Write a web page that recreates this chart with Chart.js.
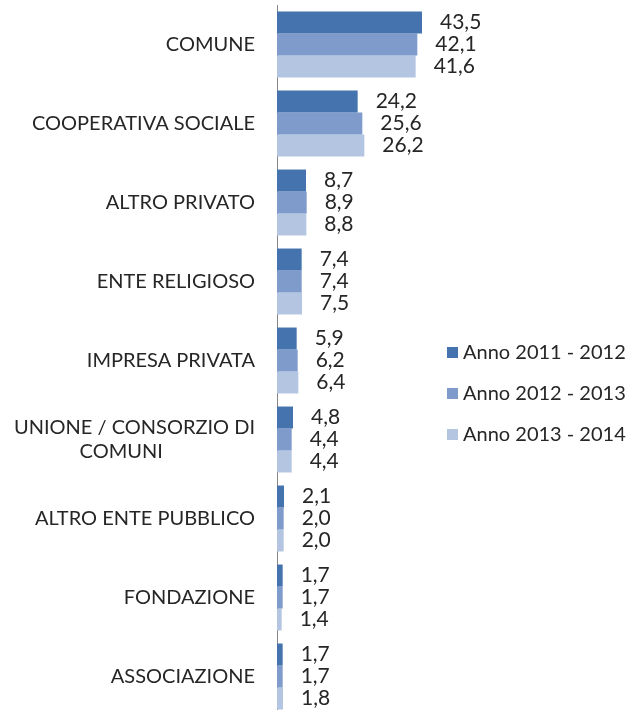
<!DOCTYPE html>
<html>
<head>
<meta charset="utf-8">
<script src="https://cdn.jsdelivr.net/npm/chart.js@4/dist/chart.umd.min.js"></script>
<style>
  body { margin: 0; overflow: hidden; background: #fff; }
  .wrap { position: relative; width: 626px; height: 716px; }
  .legend { position: absolute; left: 447px; top: 339px; font-family: Lato, sans-serif; font-size: 20px; color: #262626; }
  .legend div { height: 41px; display: flex; align-items: flex-start; white-space: nowrap; }
  .legend span.box { display: inline-block; width: 11px; height: 11px; margin: 8px 5px 0 0; }
</style>
</head>
<body>
<div class="wrap">
  <canvas id="barChart" width="626" height="716"></canvas>
  <div class="legend" id="legend"></div>
</div>
<script>
const categories = [
  'COMUNE',
  'COOPERATIVA SOCIALE',
  'ALTRO PRIVATO',
  'ENTE RELIGIOSO',
  'IMPRESA PRIVATA',
  ['UNIONE / CONSORZIO DI', 'COMUNI                  '],
  'ALTRO ENTE PUBBLICO',
  'FONDAZIONE',
  'ASSOCIAZIONE'
];
const seriesNames = ['Anno 2011 - 2012', 'Anno 2012 - 2013', 'Anno 2013 - 2014'];
const anno2011 = [43.5, 24.2, 8.7, 7.4, 5.9, 4.8, 2.1, 1.7, 1.7];
const anno2012 = [42.1, 25.6, 8.9, 7.4, 6.2, 4.4, 2.0, 1.7, 1.7];
const anno2013 = [41.6, 26.2, 8.8, 7.5, 6.4, 4.4, 2.0, 1.4, 1.8];
const colors = ['#4573AE', '#7F9BCB', '#B4C5E1'];

// value labels to the right of each bar
const valueLabels = {
  id: 'valueLabels',
  afterDatasetsDraw(chart) {
    const c = chart.ctx;
    c.save();
    c.font = '21px Lato, sans-serif';
    c.fillStyle = '#262626';
    c.textAlign = 'left';
    c.textBaseline = 'middle';
    chart.data.datasets.forEach((ds, i) => {
      chart.getDatasetMeta(i).data.forEach((bar, j) => {
        c.fillText(ds.data[j].toFixed(1).replace('.', ','), bar.x + 18, bar.y);
      });
    });
    c.restore();
  }
};

new Chart(document.getElementById('barChart'), {
  type: 'bar',
  data: {
    labels: categories,
    datasets: [
      { label: seriesNames[0], data: anno2011, backgroundColor: colors[0] },
      { label: seriesNames[1], data: anno2012, backgroundColor: colors[1] },
      { label: seriesNames[2], data: anno2013, backgroundColor: colors[2] }
    ]
  },
  options: {
    indexAxis: 'y',
    responsive: false,
    animation: false,
    layout: { padding: { top: 5, right: 149, bottom: 0, left: 0 } },
    datasets: { bar: { categoryPercentage: 0.835, barPercentage: 1 } },
    plugins: { legend: { display: false }, tooltip: { enabled: false } },
    scales: {
      x: { display: false, min: 0, max: 60 },
      y: {
        grid: { display: false, drawTicks: false },
        border: { color: '#868686', width: 1 },
        ticks: { color: '#262626', padding: 22, font: { family: 'Lato, sans-serif', size: 20 } },
        afterFit(scale) {
          scale.width = 277;
          scale.paddingTop = 0;
          scale.paddingBottom = 0;
        }
      }
    }
  },
  plugins: [valueLabels]
});

// legend as html
const legendEl = document.getElementById('legend');
seriesNames.forEach((name, i) => {
  const row = document.createElement('div');
  row.innerHTML = `<span class="box" style="background:${colors[i]}"></span>${name}`;
  legendEl.appendChild(row);
});
</script>
</body>
</html>
